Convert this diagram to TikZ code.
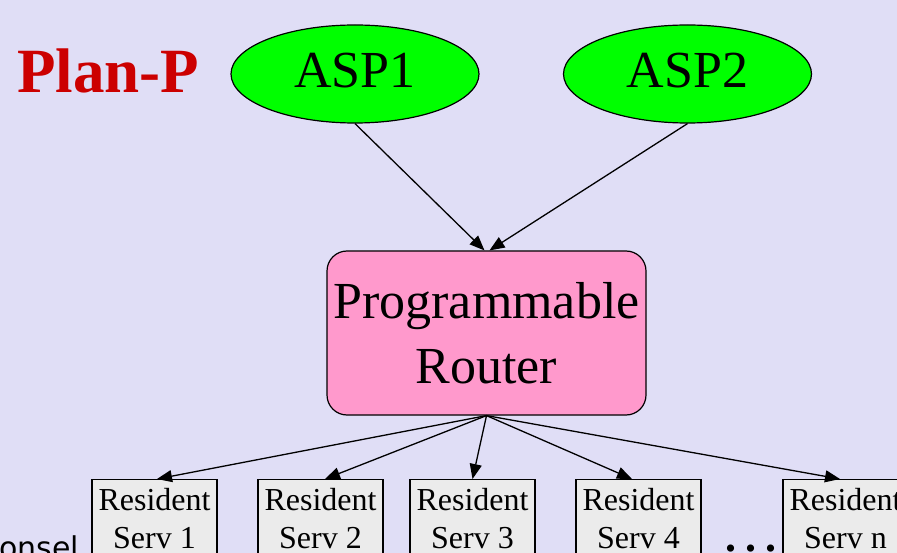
\documentclass[tikz,border=0pt]{standalone}
\usepackage{fontspec}
\setmainfont{Liberation Serif}
\newfontfamily\consfont{DejaVu Sans}
\usetikzlibrary{shapes, arrows.meta, positioning, calc}

\definecolor{slidebg}{RGB}{224,222,246}
\definecolor{aspgreen}{RGB}{0,255,0}
\definecolor{routerpink}{RGB}{255,153,204}
\definecolor{servgray}{RGB}{235,235,235}
\definecolor{titlered}{RGB}{204,0,0}

\begin{document}
\begin{tikzpicture}[
		x=1pt, y=-1pt,
		asp/.style={
				ellipse, draw, line width=1.2pt, fill=aspgreen,
				minimum width=248pt, minimum height=98pt, inner sep=0pt,
				font=\fontsize{52}{62}\selectfont, text depth=8pt
			},
		router/.style={
				rectangle, rounded corners=20pt, draw, line width=1.2pt, fill=routerpink,
				minimum width=319pt, minimum height=164pt, inner sep=0pt,
				align=center, font=\fontsize{52}{65}\selectfont
			},
		servbox/.style={
				rectangle, draw, line width=1.2pt, fill=servgray,
				minimum width=125pt, minimum height=78pt, inner sep=0pt,
				align=center, font=\fontsize{32}{38}\selectfont
			},
		edge/.style={-{Triangle[length=15pt,width=12pt]}, line width=1.3pt}
	]
	\useasboundingbox (0,0) rectangle (897,553);
	\fill[slidebg] (0,0) rectangle (897,553);
	\clip (0,0) rectangle (897,553);

	\node[anchor=base west, inner sep=0pt, text=titlered, font=\fontsize{63}{70}\selectfont\bfseries] (title) at (17,93) {Plan-P};

	\node[asp] (asp1) at (355,74) {ASP1};
	\node[asp] (asp2) at (687.5,74) {ASP2};

	\node[router] (router) at (486.5,333) {Programmable\\Router};

	% resident servers along the bottom
	\foreach \i/\x in {1/154.5, 2/320.5, 3/472.5, 4/638.5, n/845.5}
	\node[servbox, anchor=north] (serv\i) at (\x,479) {Resident\\Serv \i};

	\node[anchor=base, inner sep=0pt, font=\fontsize{44}{48}\selectfont\bfseries] (dots) at (751,551) {.\hspace{9pt}.\hspace{9pt}.};
	\node[anchor=base west, inner sep=0pt, font=\fontsize{30}{34}\consfont] (cons) at (-1,558) {onsel};

	\draw[edge] (asp1.south) -- ([xshift=-2pt]router.north);
	\draw[edge] (asp2.south) -- ([xshift=3pt]router.north);

	\foreach \i/\dx in {1/2.5, 2/4.5, 3/0, 4/-6.5, n/-5.5}
	\draw[edge] (router.south) -- ([xshift=\dx pt]serv\i.north);
\end{tikzpicture}
\end{document}
